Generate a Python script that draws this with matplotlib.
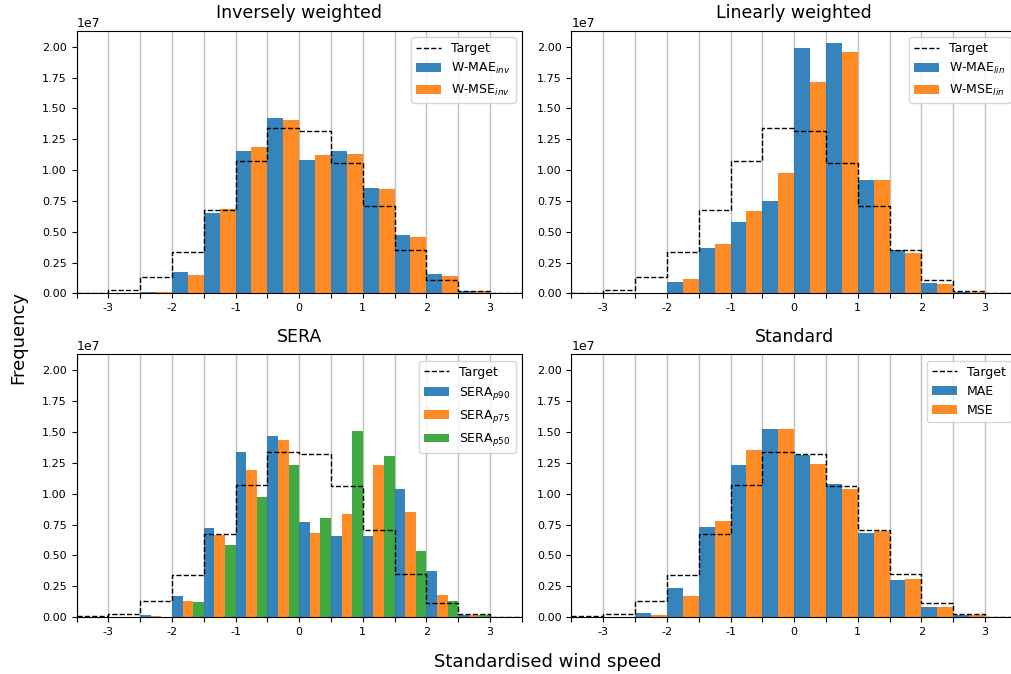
import numpy as np
import matplotlib.pyplot as plt

# bin edges of the standardised wind speed histograms (width 0.5)
edges = np.arange(-3.5, 3.51, 0.5)

# frequencies in units of 1e7, one value per bin
target = [0.005, 0.024, 0.13, 0.338, 0.673, 1.07, 1.34, 1.32, 1.06, 0.705, 0.349, 0.111, 0.022, 0.003]

wmae_inv = [0.0, 0.002, 0.011, 0.173, 0.654, 1.154, 1.422, 1.081, 1.154, 0.854, 0.473, 0.157, 0.019, 0.002]
wmse_inv = [0.0, 0.002, 0.011, 0.149, 0.684, 1.189, 1.405, 1.122, 1.130, 0.846, 0.457, 0.141, 0.016, 0.001]

wmae_lin = [0.0, 0.001, 0.002, 0.092, 0.368, 0.578, 0.749, 1.986, 2.030, 0.919, 0.349, 0.084, 0.014, 0.001]
wmse_lin = [0.0, 0.002, 0.002, 0.116, 0.400, 0.668, 0.976, 1.714, 1.957, 0.919, 0.327, 0.076, 0.011, 0.001]

sera_p90 = [0.0, 0.002, 0.014, 0.168, 0.719, 1.335, 1.465, 0.768, 0.654, 0.654, 1.035, 0.370, 0.019, 0.002]
sera_p75 = [0.0, 0.001, 0.005, 0.127, 0.662, 1.189, 1.432, 0.678, 0.832, 1.230, 0.849, 0.176, 0.019, 0.001]
sera_p50 = [0.0, 0.001, 0.003, 0.119, 0.581, 0.970, 1.230, 0.800, 1.505, 1.303, 0.532, 0.127, 0.014, 0.001]

mae = [0.0, 0.003, 0.030, 0.232, 0.727, 1.230, 1.522, 1.311, 1.076, 0.678, 0.297, 0.078, 0.016, 0.001]
mse = [0.0, 0.003, 0.014, 0.168, 0.776, 1.351, 1.522, 1.238, 1.035, 0.695, 0.305, 0.078, 0.014, 0.001]

panels = [
    ("Inversely weighted", [wmae_inv, wmse_inv], [r"W-MAE$_{inv}$", r"W-MSE$_{inv}$"]),
    ("Linearly weighted", [wmae_lin, wmse_lin], [r"W-MAE$_{lin}$", r"W-MSE$_{lin}$"]),
    ("SERA", [sera_p90, sera_p75, sera_p50], [r"SERA$_{p90}$", r"SERA$_{p75}$", r"SERA$_{p50}$"]),
    ("Standard", [mae, mse], ["MAE", "MSE"]),
]
colors = ["tab:blue", "tab:orange", "tab:green"]

fig = plt.figure(figsize=(10.12, 6.74), dpi=100)
positions = [
    [0.0756, 0.5648, 0.44, 0.3896],
    [0.5647, 0.5648, 0.44, 0.3896],
    [0.0756, 0.0846, 0.44, 0.3896],
    [0.5647, 0.0846, 0.44, 0.3896],
]

ticks = np.arange(-3.5, 3.51, 0.5)
ticklabels = ["" if abs(x - round(x)) > 1e-9 or abs(x) > 3.1 else str(int(round(x))) for x in ticks]

for pos, (title, series, labels) in zip(positions, panels):
    ax = fig.add_axes(pos)
    ax.set_axisbelow(True)
    n = len(series)
    w = 0.5 / n
    t = np.array(target) * 1e7
    ax.step(edges, np.append(t, t[-1]), where="post", color="k", ls="--", lw=1,
            label="Target", zorder=5)
    for i, (vals, lab) in enumerate(zip(series, labels)):
        ax.bar(edges[:-1] + i * w, np.array(vals) * 1e7, width=w, align="edge",
               color=colors[i], alpha=0.9, label=lab, linewidth=0)
    ax.set_xlim(-3.5, 3.5)
    ax.set_ylim(0, 2.13e7)
    ax.set_xticks(ticks)
    ax.set_xticklabels(ticklabels)
    ax.set_yticks(np.arange(0, 2.01e7, 0.25e7))
    ax.tick_params(labelsize=8)
    ax.yaxis.get_offset_text().set_fontsize(9)
    ax.grid(axis="x", color="#c0c0c0", lw=1)
    ax.set_title(title, fontsize=12.5, pad=9)
    ax.legend(loc="upper right", fontsize=9)

fig.text(0.018, 0.5, "Frequency", rotation=90, fontsize=13, ha="center", va="center")
fig.text(0.541, 0.018, "Standardised wind speed", fontsize=13, ha="center", va="center")

fig.savefig("out.png", dpi=100)
